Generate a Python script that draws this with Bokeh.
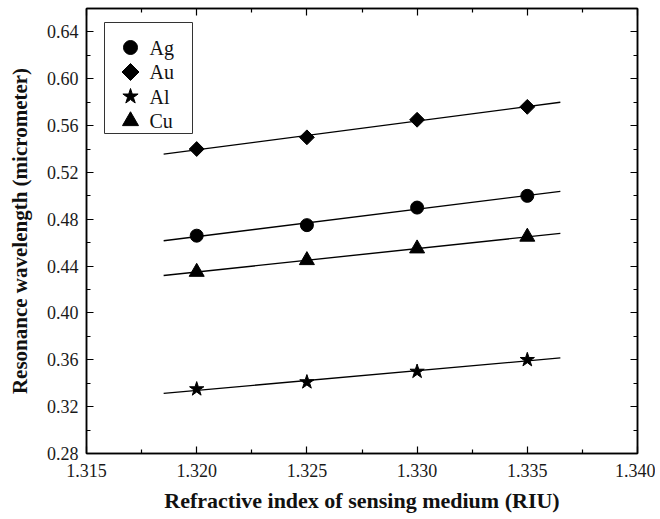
import numpy as np
from bokeh.plotting import figure
from bokeh.models import LinearAxis, Range1d, FixedTicker, CustomJSTickFormatter
from bokeh.core.properties import value
from bokeh.embed import file_html
from bokeh.resources import INLINE

# Data
ri = [1.320, 1.325, 1.330, 1.335]
ag = [0.466, 0.475, 0.490, 0.500]
au = [0.540, 0.550, 0.565, 0.576]
al = [0.335, 0.341, 0.350, 0.360]
cu = [0.435, 0.445, 0.455, 0.465]
fit_x = [1.3185, 1.3365]
series_names = ["Ag", "Au", "Al", "Cu"]
x_ticks = [1.315, 1.320, 1.325, 1.330, 1.335, 1.340]
y_ticks = [0.28, 0.32, 0.36, 0.40, 0.44, 0.48, 0.52, 0.56, 0.60, 0.64]

FONT = "Liberation Serif"
W, H = 655, 519
FL, FR, FT, FB = 86, 18, 8, 66          # borders around the frame
FW, FH = W - FL - FR, H - FT - FB        # frame size in px

p = figure(width=W, height=H, output_backend="svg", toolbar_location=None,
           x_range=Range1d(1.315, 1.340), y_range=Range1d(0.28, 0.66),
           min_border_left=FL, min_border_right=FR, min_border_top=FT,
           min_border_bottom=FB)
p.grid.visible = False
p.outline_line_color = "black"
p.outline_line_width = 1.5
p.background_fill_color = "white"
p.border_fill_color = "white"

# pixel-space ranges for the legend box inside the frame
p.extra_x_ranges = {"lx": Range1d(0, FW)}
p.extra_y_ranges = {"ly": Range1d(0, FH)}

x_minor = [x + 0.0025 for x in x_ticks[:-1]]
y_minor = [y + 0.02 for y in y_ticks]


def style_axis(ax, ticks, minor, show_labels=True):
    ax.ticker = FixedTicker(ticks=ticks, minor_ticks=minor)
    ax.axis_line_color = "black"
    ax.axis_line_width = 1.5
    ax.major_tick_line_color = "black"
    ax.major_tick_line_width = 1.2
    ax.minor_tick_line_color = "black"
    ax.minor_tick_line_width = 1.2
    ax.major_tick_in = 7
    ax.major_tick_out = 0
    ax.minor_tick_in = 4
    ax.minor_tick_out = 0
    if show_labels:
        ax.major_label_text_font = FONT
        ax.major_label_text_font_size = "18px"
        ax.major_label_text_color = "#1a1a1a"
        ax.major_label_standoff = 8
        ax.axis_label_text_font = FONT
        ax.axis_label_text_font_style = "bold"
        ax.axis_label_text_color = "#111111"
        ax.axis_label_standoff = 10
    else:
        ax.major_label_text_color = None
        ax.major_label_standoff = 0


xb = p.below[0]
yl = p.left[0]
xb.axis_label = "Refractive index of sensing medium (RIU)"
yl.axis_label = "Resonance wavelength (micrometer)"
style_axis(xb, x_ticks, x_minor)
style_axis(yl, y_ticks, y_minor)
xb.axis_label_text_font_size = "22px"
yl.axis_label_text_font_size = "21px"
yl.axis_label_standoff = 12
xb.major_label_standoff = 10
xb.axis_label_standoff = 8
xb.formatter = CustomJSTickFormatter(code="return tick.toFixed(3)")
yl.formatter = CustomJSTickFormatter(code="return tick.toFixed(2)")

top = LinearAxis()
right = LinearAxis()
style_axis(top, x_ticks, x_minor, show_labels=False)
style_axis(right, y_ticks, y_minor, show_labels=False)
p.add_layout(top, "above")
p.add_layout(right, "right")

# (name, values, marker, plot size, legend size, angle)
series = [("Ag", ag, "circle", 13, 14, 0.0),
          ("Au", au, "square", 10.5, 12, np.pi / 4),
          ("Al", al, "star", 15, 16, 0.0),
          ("Cu", cu, "triangle", 15, 16, 0.0)]

for name, ys, marker, size, lsize, ang in series:
    k, b = np.polyfit(ri, ys, 1)
    fy = [k * x + b for x in fit_x]
    p.line(fit_x, fy, line_color="black", line_width=1.4)
    p.scatter(ri, ys, marker=marker, size=size, angle=ang,
              fill_color="black", line_color="black")

# ---- legend (drawn in frame pixel space, y measured upward) ----
box_l, box_r, box_t, box_b = 18, 106, FH - 14, FH - 125
p.quad(left=[box_l], right=[box_r], top=[box_t], bottom=[box_b],
       fill_color="white", line_color="#333333", line_width=1,
       x_range_name="lx", y_range_name="ly")
first_y, pitch = FH - 39, 24.5
for i, (name, ys, marker, size, lsize, ang) in enumerate(series):
    yy = first_y - i * pitch
    p.scatter([44], [yy], marker=marker, size=lsize, angle=ang,
              fill_color="black", line_color="black",
              x_range_name="lx", y_range_name="ly")
    p.text([63], [yy], text=[series_names[i]], text_font=value(FONT),
           text_font_size="20px", text_color="#111111",
           text_baseline="middle", text_align="left",
           x_range_name="lx", y_range_name="ly")

open("out.html", "w").write(file_html(p, INLINE))
